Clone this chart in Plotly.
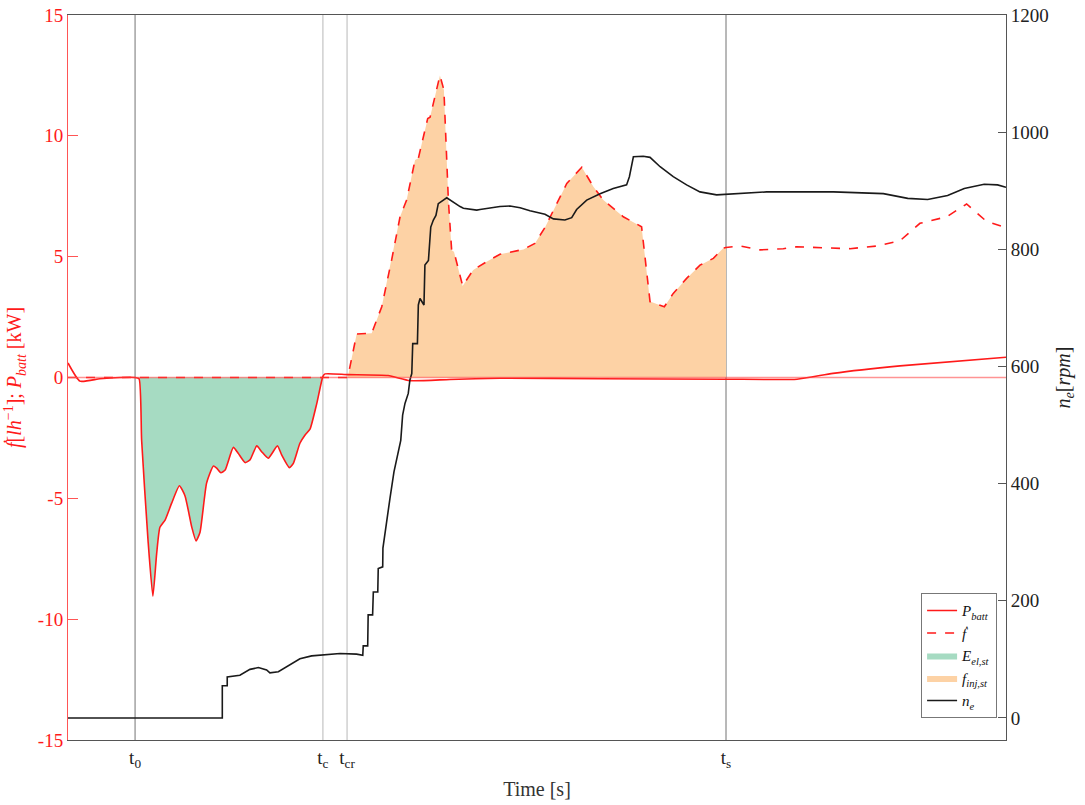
import plotly.graph_objects as go

# Event times [s]
event_times = [2.86, 10.87, 11.90, 28.06]
event_labels = ["t<sub>0</sub>", "t<sub>c</sub>", "t<sub>cr</sub>", "t<sub>s</sub>"]
event_colors = ["#8a8a8a", "#c4c4c4", "#c4c4c4", "#8a8a8a"]

# Left axis ticks
left_ticks = [-15, -10, -5, 0, 5, 10, 15]
left_ticktext = ["-15", "-10", "-5", "0", "5", "10", "15"]
# Right axis ticks
right_ticks = [0, 200, 400, 600, 800, 1000, 1200]

# Battery power P_batt [kW]
t_batt = [0.0, 0.51, 1.36, 2.22, 2.86, 3.03, 3.14, 3.41, 3.62, 3.78, 3.92, 4.14, 4.42, 4.75,
          4.99, 5.28, 5.46, 5.63, 5.91, 6.20, 6.34, 6.52, 6.70, 7.05, 7.26, 7.55, 7.76, 8.05,
          8.26, 8.54, 8.93, 9.11, 9.44, 9.61, 9.89, 10.11, 10.32, 10.61, 10.87, 10.96, 11.94,
          13.65, 14.58, 16.29, 18.42, 22.69, 28.10, 31.09, 32.62, 35.48, 40.0]
p_batt = [0.6, -0.15, -0.05, 0.0, 0.0, -0.05, -2.6, -6.7, -9.05, -7.3, -6.2, -5.9, -5.2, -4.48,
          -4.9, -6.2, -6.76, -6.4, -4.37, -3.66, -3.75, -3.94, -3.83, -2.89, -3.14, -3.52, -3.41,
          -2.83, -3.07, -3.34, -2.83, -3.2, -3.73, -3.55, -2.72, -2.38, -2.14, -1.07, 0.05, 0.15,
          0.12, 0.08, -0.13, -0.08, -0.03, -0.05, -0.07, -0.07, 0.17, 0.48, 0.84]

# Fuel flow f-dot [l/h]
t_fuel = [0.0, 11.90, 11.95, 12.31, 12.95, 13.38, 13.80, 14.16, 14.44, 14.80, 14.94, 15.34,
          15.44, 15.86, 16.03, 16.22, 16.36, 16.46, 16.83, 17.28, 17.85, 18.42, 19.42, 19.91,
          20.34, 20.63, 21.27, 21.91, 22.40, 22.83, 23.68, 24.46, 24.82, 25.43, 25.81, 26.38,
          26.95, 27.52, 27.94, 28.06, 28.66, 29.51, 30.50, 31.07, 33.35, 34.49, 35.48, 36.33,
          37.47, 38.32, 39.18, 40.0]
f_dot = [0.0, 0.0, 0.1, 1.8, 1.83, 2.93, 4.86, 6.65, 7.34, 9.0, 9.07, 10.72,
         10.77, 12.5, 11.9, 7.34, 5.27, 5.2, 3.79, 4.45, 4.79, 5.1, 5.3, 5.55,
         6.21, 6.79, 8.03, 8.7, 7.9, 7.34, 6.65, 6.24, 3.14, 2.93, 3.48, 4.1,
         4.65, 4.93, 5.35, 5.38, 5.44, 5.28, 5.33, 5.41, 5.33, 5.44, 5.66, 6.38,
         6.65, 7.18, 6.45, 6.21]

# Engine speed n_e [rpm]
t_eng = [0.0, 6.58, 6.58, 6.79, 6.79, 7.33, 7.76, 8.12, 8.47, 8.61, 8.97, 9.25, 9.54, 9.89,
         10.39, 10.92, 11.60, 12.31, 12.57, 12.59, 12.78, 12.80, 12.99, 13.02, 13.21, 13.23,
         13.42, 13.43, 13.56, 13.73, 13.90, 14.07, 14.19, 14.27, 14.37, 14.51, 14.58, 14.66,
         14.70, 14.90, 14.94, 15.01, 15.18, 15.22, 15.37, 15.47, 15.58, 15.69, 15.79, 16.15,
         16.29, 16.72, 16.86, 17.43, 17.57, 18.42, 18.85, 19.28, 19.70, 20.34, 20.70, 21.19,
         21.48, 21.69, 22.12, 22.69, 23.25, 23.82, 23.94, 24.11, 24.53, 24.82, 25.25, 25.81,
         26.38, 26.95, 27.66, 28.66, 29.79, 32.64, 34.77, 35.81, 36.66, 37.51, 38.22, 39.07,
         39.64, 40.0]
n_e = [0, 0, 55, 55, 70, 73, 83, 86, 82, 77, 79, 86, 93, 101,
       106, 108, 110, 109, 107, 123, 123, 176, 176, 215, 215, 255,
       258, 290, 330, 375, 420, 455, 474, 517, 537, 554, 577, 588,
       639, 639, 705, 716, 705, 773, 781, 838, 850, 858, 878, 888,
       884, 873, 870, 867, 868, 873, 874, 871, 866, 860, 852, 850,
       854, 868, 884, 895, 904, 910, 924, 958, 959, 957, 941, 924,
       910, 898, 893, 895, 898, 898, 895, 887, 885, 892, 904, 911,
       910, 906]

RED = "#ff1a1a"
SERIF = "Liberation Serif"
FDOT = "<i>\u1e1f</i>"

t0, tc, tcr, ts = event_times

# Stored electrical energy: area under P_batt between t0 and tc
idx_el = [i for i, t in enumerate(t_batt) if t0 <= t <= tc]
# Injected fuel: area under f-dot between tcr and ts
idx_inj = [i for i, t in enumerate(t_fuel) if tcr <= t <= ts]

fig = go.Figure()

fig.add_trace(go.Scatter(
    x=[t_batt[i] for i in idx_el], y=[p_batt[i] for i in idx_el],
    mode="lines", fill="tozeroy", fillcolor="#a6dbc2",
    line=dict(width=0, shape="spline", smoothing=0.5),
    name="<i>E</i><sub><i>el,st</i></sub>", legendrank=3,
))
fig.add_trace(go.Scatter(
    x=[t_fuel[i] for i in idx_inj], y=[f_dot[i] for i in idx_inj],
    mode="lines", fill="tozeroy", fillcolor="#fdd2a5",
    line=dict(width=0),
    name="<i>f</i><sub><i>inj,st</i></sub>", legendrank=4,
))
fig.add_trace(go.Scatter(
    x=t_batt, y=p_batt, mode="lines",
    line=dict(color=RED, width=1.6, shape="spline", smoothing=0.5),
    name="<i>P</i><sub><i>batt</i></sub>", legendrank=1,
))
fig.add_trace(go.Scatter(
    x=t_fuel, y=f_dot, mode="lines",
    line=dict(color=RED, width=1.6, dash="dash"),
    name=FDOT, legendrank=2,
))
fig.add_trace(go.Scatter(
    x=t_eng, y=n_e, mode="lines", yaxis="y2",
    line=dict(color="#1a1a1a", width=1.6),
    name="<i>n</i><sub><i>e</i></sub>", legendrank=5,
))

shapes = []
for t, c in zip(event_times, event_colors):
    shapes.append(dict(type="line", xref="x", yref="paper", x0=t, x1=t, y0=0, y1=1,
                       line=dict(color=c, width=1.2), layer="below"))
shapes.append(dict(type="line", xref="paper", yref="y", x0=0, x1=1, y0=0, y1=0,
                   line=dict(color="rgba(255,60,60,0.55)", width=1.5), layer="above"))

fig.update_layout(
    width=1085, height=805,
    margin=dict(l=68, r=79, t=15, b=65, autoexpand=False),
    paper_bgcolor="white", plot_bgcolor="white",
    font=dict(family=SERIF, size=19, color="#222"),
    shapes=shapes,
    showlegend=True,
    legend=dict(x=0.9905, y=0.03, xanchor="right", yanchor="bottom",
                bgcolor="white", bordercolor="#777", borderwidth=1,
                font=dict(family=SERIF, size=15, color="#111"),
                tracegroupgap=0, itemwidth=30),
    xaxis=dict(
        range=[0, 40], tickmode="array", tickvals=event_times, ticktext=event_labels,
        showgrid=False, zeroline=False, showline=True, linecolor="#555", linewidth=1,
        mirror=True, ticks="", automargin=False,
        tickfont=dict(family=SERIF, size=19, color="#222"),
        title=dict(text="Time [s]", font=dict(family=SERIF, size=20, color="#333"), standoff=12),
    ),
    yaxis=dict(
        range=[-15, 15], tickmode="array", tickvals=left_ticks, ticktext=left_ticktext,
        showgrid=False, zeroline=False, showline=True, linecolor="#ff5555", linewidth=1,
        ticks="inside", ticklen=10, tickcolor="#ff5555", automargin=False,
        tickfont=dict(family=SERIF, size=19, color=RED),
        title=dict(text=FDOT + "[<i>lh</i><sup>−1</sup>]; <i>P</i><sub><i>batt</i></sub> [kW]",
                   font=dict(family=SERIF, size=20, color=RED), standoff=10),
    ),
    yaxis2=dict(
        range=[-37.6, 1200], tickvals=right_ticks,
        overlaying="y", side="right", anchor="x",
        showgrid=False, zeroline=False, showline=True, linecolor="#555", linewidth=1,
        ticks="inside", ticklen=8, tickcolor="#555", automargin=False,
        tickfont=dict(family=SERIF, size=19, color="#222"),
        title=dict(text="<i>n</i><sub><i>e</i></sub>[<i>rpm</i>]",
                   font=dict(family=SERIF, size=20, color="#222"), standoff=8),
    ),
)

fig.write_html("out.html")
